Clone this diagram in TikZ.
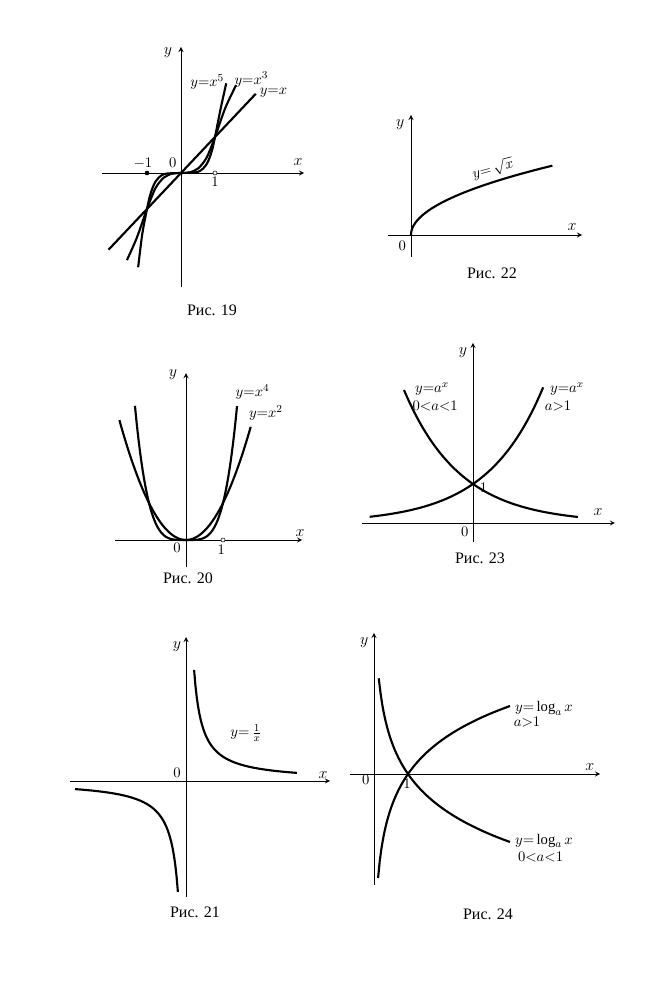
\documentclass[tikz,border=0pt]{standalone}
\usepackage{fontspec}
\setmainfont{Liberation Serif}
\begin{document}
\begin{tikzpicture}[x=0.75pt,y=0.75pt,>=stealth,
	axis/.style={->,line width=0.7pt},
	curve/.style={line width=1.6pt},
	lbl/.style={font=\fontsize{11}{13}\selectfont,inner sep=1pt},
	alab/.style={font=\large,inner sep=1pt},
	ris/.style={font=\large},
	fldot/.style={circle,draw,fill=black,inner sep=0pt,minimum size=3pt},
	opdot/.style={circle,draw,fill=white,inner sep=0pt,minimum size=3pt}]
	\useasboundingbox (0,0) rectangle (657,1000);
	% Рис. 19
	\begin{scope}[shift={(181,827)},x=25.5pt,y=27pt]
		\draw[axis] (-2.33,0)--(3.62,0);
		\draw[axis] (0,-3.17)--(0,3.5);
		\draw[curve] plot[domain=-2.13:2.2,samples=2] (\x,\x);
		\draw[curve] plot[smooth] coordinates {(-1.59,-2.42) (-1.3,-1.8) (-1,-1)
			(-0.75,-0.42) (-0.5,-0.125) (-0.25,-0.016) (0,0) (0.25,0.016)
			(0.5,0.125) (0.75,0.42) (1,1) (1.3,1.8) (1.62,2.44)};
		\draw[curve] plot[smooth] coordinates {(-1.26,-2.62) (-1.14,-1.7) (-1,-1)
			(-0.9,-0.59) (-0.75,-0.24) (-0.5,-0.031) (0,0) (0.5,0.031)
			(0.75,0.24) (0.9,0.59) (1,1) (1.16,1.76) (1.33,2.49)};
		\node[fldot] (m1) at (-1,0) {};
		\node[opdot] (p1) at (1,0) {};
		\node[lbl] (f5) at (0.77,2.53) {$y{=}x^5$};
		\node[lbl] (f3) at (2.07,2.6) {$y{=}x^3$};
		\node[lbl] (f1) at (2.72,2.22) {$y{=}x$};
		\node[alab] (y19) at (-0.38,3.33) {$y$};
		\node[alab] (x19) at (3.44,0.31) {$x$};
		\node[lbl] (o19) at (-0.24,0.28) {$0$};
		\node[lbl] (n19) at (-1.12,0.28) {$-1$};
		\node[lbl] (u19) at (1,-0.25) {$1$};
	\end{scope}
	\node[ris] (r19) at (212,690) {Рис. 19};
	% Рис. 22
	\begin{scope}[shift={(411,765)},x=25.5pt,y=25.5pt]
		\draw[axis] (-0.68,0)--(5.03,0);
		\draw[axis] (0,-0.65)--(0,3.53);
		\draw[curve] plot[domain=0:2.04,samples=60] ({\x*\x},\x);
		\node[lbl,rotate=15] (f22) at (2.41,1.95) {$y{=}\,\sqrt{x}$};
		\node[alab] (y22) at (-0.32,3.24) {$y$};
		\node[alab] (x22) at (4.74,0.24) {$x$};
		\node[lbl] (o22) at (-0.26,-0.32) {$0$};
	\end{scope}
	\node[ris] (r22) at (492,727) {Рис. 22};
	% Рис. 20
	\begin{scope}[shift={(186,460)},x=27.75pt,y=27.75pt]
		\draw[axis] (-1.92,0)--(3.14,0);
		\draw[axis] (0,-0.73)--(0,4.51);
		\draw[curve] plot[domain=-1.38:1.38,samples=80] (\x,{\x*\x*\x*\x});
		\draw[curve] plot[domain=-1.8:1.75,samples=80] (\x,{\x*\x});
		\node[opdot] (p20) at (1,0) {};
		\node[lbl] (f4) at (1.8,4.0) {$y{=}x^4$};
		\node[lbl] (f2) at (2.16,3.43) {$y{=}x^2$};
		\node[alab] (y20) at (-0.35,4.46) {$y$};
		\node[alab] (x20) at (3.08,0.19) {$x$};
		\node[lbl] (o20) at (-0.24,-0.22) {$0$};
		\node[lbl] (u20) at (0.95,-0.27) {$1$};
	\end{scope}
	\node[ris] (r20) at (188,422) {Рис. 20};
	% Рис. 23
	\begin{scope}[shift={(473,477)},x=29.25pt,y=29.25pt]
		\draw[axis] (-2.85,0)--(3.64,0);
		\draw[axis] (0,-0.49)--(0,4.62);
		\draw[curve] plot[domain=-2.65:1.8,samples=60] (\x,{pow(2,\x)});
		\draw[curve] plot[domain=-1.77:2.69,samples=60] (\x,{pow(0.5,\x)});
		\node[lbl] (fl) at (-1.05,3.43) {$y{=}a^x$};
		\node[lbl] (cl) at (-0.97,3.0) {$0{<}a{<}1$};
		\node[lbl] (fr) at (2.41,3.43) {$y{=}a^x$};
		\node[lbl] (cr) at (2.18,3.0) {$a{>}1$};
		\node[lbl] (u23) at (0.27,0.9) {$1$};
		\node[lbl] (o23) at (-0.21,-0.23) {$0$};
		\node[alab] (y23) at (-0.26,4.38) {$y$};
		\node[alab] (x23) at (3.21,0.28) {$x$};
	\end{scope}
	\node[ris] (r23) at (480,442) {Рис. 23};
	% Рис. 21
	\begin{scope}[shift={(186,219)},x=22.5pt,y=22.5pt]
		\draw[axis] (-3.87,0)--(4.8,0);
		\draw[axis] (0,-3.87)--(0,4.8);
		\draw[curve] plot[domain=0.27:3.7,samples=80] (\x,{1/\x});
		\draw[curve] plot[domain=-3.7:-0.27,samples=80] (\x,{1/\x});
		\node[lbl] (f21) at (2.0,1.6) {$y{=}\,\frac{1}{x}$};
		\node[lbl] (o21) at (-0.3,0.27) {$0$};
		\node[alab] (x21) at (4.57,0.2) {$x$};
		\node[alab] (y21) at (-0.3,4.47) {$y$};
	\end{scope}
	\node[ris] (r21) at (195,88) {Рис. 21};
	% Рис. 24
	\begin{scope}[shift={(374,226)},x=25.5pt,y=25.5pt]
		\draw[axis] (-0.71,0)--(6.65,0);
		\draw[axis] (0,-3.26)--(0,4.15);
		\draw[curve] plot[domain=0.12:4,samples=80] (\x,{ln(\x)/ln(2)});
		\draw[curve] plot[domain=0.14:4,samples=80] (\x,{-ln(\x)/ln(2)});
		\node[lbl] (fu) at (5.0,1.94) {$y{=}\log_a x$};
		\node[lbl] (cu) at (4.5,1.53) {$a{>}1$};
		\node[lbl] (fd) at (5.0,-1.97) {$y{=}\log_a x$};
		\node[lbl] (cd) at (4.9,-2.44) {$0{<}a{<}1$};
		\node[lbl] (o24) at (-0.24,-0.18) {$0$};
		\node[lbl] (u24) at (0.97,-0.29) {$1$};
		\node[alab] (y24) at (-0.29,3.85) {$y$};
		\node[alab] (x24) at (6.35,0.21) {$x$};
	\end{scope}
	\node[ris] (r24) at (488,86) {Рис. 24};
\end{tikzpicture}
\end{document}
